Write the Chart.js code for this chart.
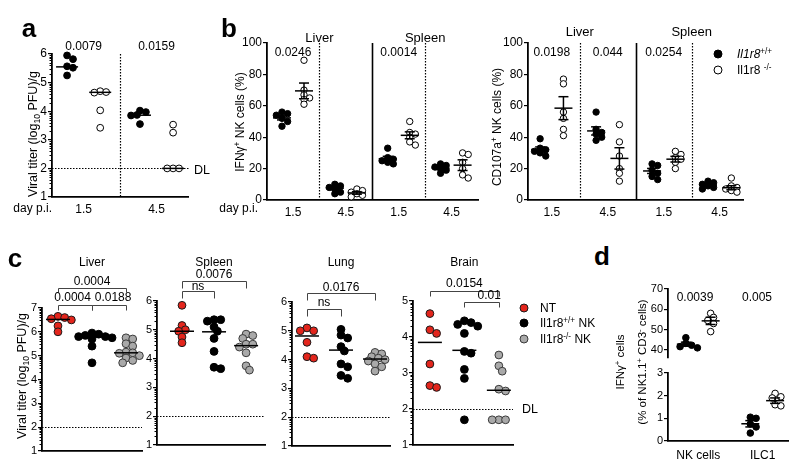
<!DOCTYPE html>
<html>
<head>
<meta charset="utf-8">
<title>Il1r8 NK cell figure</title>
<script src="https://cdn.jsdelivr.net/npm/chart.js"></script>
<style>
  html, body { margin: 0; padding: 0; background: #fff; }
  #fig { position: relative; width: 800px; height: 476px; overflow: hidden; background: #fff;
         font-family: 'Liberation Sans', Arial, Helvetica, sans-serif; color: #000; }
  #fig canvas { position: absolute; }
  .lab { position: absolute; white-space: nowrap; line-height: 1; }
  .sup { font-size: 0.68em; position: relative; top: -0.5em; }
  .sub { font-size: 0.68em; position: relative; top: 0.35em; }
  .dot { position: absolute; width: 7px; height: 7px; border: 1px solid #000; border-radius: 50%; transform: translate(-50%, -50%); }
</style>
</head>
<body>
<div id="fig"></div>
<script>
Chart.defaults.font.family = "'Liberation Sans', Arial, Helvetica, sans-serif";
Chart.defaults.color = '#000';

// ---- a: viral titer (liver), WT vs KO ----
const aDays = ['1.5', '4.5'];
const aP = ['0.0079', '0.0159'];
const aWT = [[5.95, 5.82, 5.57, 5.52, 5.25], [4.02, 3.97, 3.87, 3.85, 3.55]];
const aKO = [[4.7, 4.67, 4.65, 4.03, 3.42], [3.53, 3.25, 2, 2, 2]];
const aMedWT = [5.55, 3.86];
const aMedKO = [4.66, 2.0];

// ---- b: IFNg+ and CD107a+ NK cells, liver 1.5/4.5, spleen 1.5/4.5 ----
const bDays = ['1.5', '4.5', '1.5', '4.5'];
const bOrgans = ['Liver', 'Spleen'];
const ifnWT = [[56, 55, 54, 52, 50, 47], [10, 9, 8, 7, 5, 4], [33, 27, 26, 25, 24, 23], [23, 22, 21, 20, 19, 17]];
const ifnKO = [[89, 70, 67, 65, 64, 61], [7, 6, 5, 4, 3, 2], [50, 43, 42, 40, 37, 35], [30, 29, 24, 20, 16, 14]];
const ifnMeanWT = [52.3, 7.5, 26.3, 20.3];
const ifnMeanKO = [69.5, 4.5, 41.2, 22.2];
const ifnSemWT = [1.3, 1.0, 1.5, 0.9];
const ifnSemKO = [5.0, 0.8, 2.2, 3.4];
const ifnP = ['0.0246', '', '0.0014', ''];

const cdWT = [[39, 33, 32, 31, 30, 28], [56, 45, 43, 42, 40, 38], [23, 22, 19, 17, 15, 13], [12, 11, 10, 9, 8, 7]];
const cdKO = [[77, 74, 56, 52, 45, 41], [48, 37, 28, 20, 17, 12], [31, 29, 27, 26, 24, 20], [14, 9, 8, 7, 6, 5]];
const cdMeanWT = [32.2, 44.0, 18.5, 9.5];
const cdMeanKO = [58.5, 26.5, 26.0, 7.8];
const cdSemWT = [1.6, 2.6, 1.6, 0.8];
const cdSemKO = [7.3, 6.8, 1.8, 1.3];
const cdP = ['0.0198', '0.044', '0.0254', ''];

// ---- c: viral titer after NK transfer ----
const cOrgans = ['Liver', 'Spleen', 'Lung', 'Brain'];
const cNT = [[6.65, 6.6, 6.55, 6.5, 6.25, 6.0], [5.85, 5.15, 5.0, 4.95, 4.75, 4.55],
             [5.1, 5.0, 5.0, 4.6, 4.1, 4.05], [4.65, 4.2, 4.1, 3.25, 2.65, 2.6]];
const cWT = [[5.95, 5.9, 5.85, 5.8, 5.8, 5.75, 5.7, 5.4, 4.7], [5.35, 5.35, 5.3, 5.1, 4.95, 4.7, 4.25, 3.7, 3.65],
             [5.05, 4.85, 4.75, 4.45, 4.3, 3.85, 3.75, 3.45, 3.35], [4.45, 4.4, 4.35, 4.3, 4.1, 3.6, 3.55, 3.1, 2.85, 1.7]];
const cKO = [[5.75, 5.7, 5.5, 5.4, 5.15, 5.12, 5.1, 5.0, 4.9, 4.8, 4.7], [4.85, 4.8, 4.7, 4.5, 4.5, 4.4, 4.2, 3.75, 3.6],
             [4.25, 4.2, 4.1, 4.05, 4.0, 3.95, 3.85, 3.75, 3.6], [3.5, 3.2, 3.05, 2.55, 2.5, 1.7, 1.7, 1.7]];
const cMedNT = [6.52, 4.95, 4.82, 3.85];
const cMedWT = [5.8, 4.93, 4.33, 3.63];
const cMedKO = [5.12, 4.45, 4.02, 2.52];
const cP = [['0.0004', '0.0004', '0.0188'], ['0.0076', 'ns'], ['0.0176', 'ns'], ['0.0154', '0.01']];

// ---- d: IFNg+ NK cells and ILC1 ----
const dCells = ['NK cells', 'ILC1'];
const dWT = [[46, 43.2, 42.3, 41.6, 41], [1.05, 1.0, 0.75, 0.62, 0.35]];
const dKO = [[58, 56, 54.5, 53, 49], [2.1, 1.95, 1.9, 1.6, 1.55]];
const dMeanWT = [42.8, 0.76];
const dMeanKO = [54.3, 1.78];
const dSemWT = [1.0, 0.14];
const dSemKO = [1.8, 0.12];
const dP = ['0.0039', '0.005'];

const fig = document.getElementById('fig');
const ML = 46, MT = 36, MR = 26, MB = 24;
const S = {
  wt: {fill: '#000', stroke: '#000'},
  ko: {fill: '#fff', stroke: '#000'},
  nt: {fill: '#e3251c', stroke: '#1a1a1a'},
  grey: {fill: '#a9a9a9', stroke: '#3a3a3a'}
};

function label(html, x, y, o = {}) {
  const d = document.createElement('div');
  d.className = 'lab';
  d.innerHTML = html;
  d.style.left = x + 'px';
  d.style.top = y + 'px';
  d.style.fontSize = (o.size || 12) + 'px';
  if (o.bold) d.style.fontWeight = 'bold';
  if (o.lh) { d.style.lineHeight = o.lh + 'px'; d.style.textAlign = 'center'; }
  const ax = o.align === 'left' ? '0' : o.align === 'right' ? '-100%' : '-50%';
  d.style.transform = 'translate(' + ax + ', -50%)' + (o.rot ? ' rotate(-90deg)' : '');
  fig.appendChild(d);
}

function dot(x, y, sty) {
  const d = document.createElement('div');
  d.className = 'dot';
  d.style.left = x + 'px';
  d.style.top = y + 'px';
  d.style.background = sty.fill;
  d.style.borderColor = sty.stroke;
  fig.appendChild(d);
}

// simple beeswarm: returns horizontal offsets in px (points may overlap a bit, like the original)
function swarm(vals, yPx, diam) {
  const idx = vals.map((v, i) => i).sort((i, j) => vals[j] - vals[i]);
  const placed = [], off = [];
  const minD = diam * 0.62, step = diam * 0.38;
  idx.forEach(i => {
    const y = vals[i] * yPx;
    off[i] = 0;
    for (let k = 0; k < 60; k++) {
      const c = (k % 2 ? 1 : -1) * Math.ceil(k / 2) * step;
      if (placed.every(p => Math.hypot(p.x - c, p.y - y) >= minD)) {
        placed.push({x: c, y});
        off[i] = c;
        return;
      }
    }
  });
  return off;
}

function makeChart(c) {
  const b = c.box;
  const W = b.r - b.l + ML + MR, H = b.b - b.t + MT + MB;
  const xPx = (b.r - b.l) / (c.xMax - c.xMin), yPx = (b.b - b.t) / (c.yMax - c.yMin);
  c.px = v => b.l + (v - c.xMin) * xPx;
  const cv = document.createElement('canvas');
  cv.width = W; cv.height = H;
  cv.style.left = (b.l - ML) + 'px';
  cv.style.top = (b.t - MT) + 'px';
  cv.style.width = W + 'px';
  cv.style.height = H + 'px';
  fig.appendChild(cv);

  const sets = [];
  const seg = (x1, y1, x2, y2) => sets.push({
    data: [{x: x1, y: y1}, {x: x2, y: y2}], showLine: true, pointRadius: 0,
    borderColor: '#000', borderWidth: 1.5, order: 0, clip: false
  });
  (c.centers || []).forEach(m => {
    const hw = m.hw / xPx, cap = (m.cap || 0) / xPx;
    seg(m.pos - hw, m.m, m.pos + hw, m.m);
    if (m.sem) {
      seg(m.pos, m.m - m.sem, m.pos, m.m + m.sem);
      seg(m.pos - cap, m.m + m.sem, m.pos + cap, m.m + m.sem);
      seg(m.pos - cap, m.m - m.sem, m.pos + cap, m.m - m.sem);
    }
  });
  c.groups.forEach(g => {
    const off = swarm(g.vals, yPx, 2 * g.r + 1);
    sets.push({
      data: g.vals.map((v, i) => ({x: g.pos + off[i] / xPx, y: v})),
      pointRadius: g.r, pointHoverRadius: g.r,
      pointBackgroundColor: g.sty.fill, pointBorderColor: g.sty.stroke, pointBorderWidth: 1,
      order: 1, clip: false
    });
  });

  const deco = {
    id: 'deco',
    beforeDatasetsDraw(ch) {
      const {ctx, chartArea: a, scales: {x, y}} = ch;
      ctx.save();
      ctx.strokeStyle = '#000';
      (c.vlines || []).forEach(v => {
        ctx.lineWidth = v.solid ? 1.6 : 1.2;
        ctx.setLineDash(v.solid ? [] : [1.5, 1.5]);
        const px = Math.round(x.getPixelForValue(v.x)) + 0.5;
        ctx.beginPath(); ctx.moveTo(px, a.top); ctx.lineTo(px, a.bottom); ctx.stroke();
      });
      (c.hlines || []).forEach(h => {
        ctx.lineWidth = 1.2;
        ctx.setLineDash([1.5, 1.5]);
        const py = Math.round(y.getPixelForValue(h.y)) + 0.5;
        ctx.beginPath(); ctx.moveTo(a.left, py); ctx.lineTo(a.right + (h.ext || 0), py); ctx.stroke();
      });
      ctx.restore();
    },
    afterDraw(ch) {
      const {ctx, chartArea: a, scales: {x, y}} = ch;
      ctx.save();
      ctx.setLineDash([]);
      if (c.logMinor) {
        ctx.strokeStyle = '#000';
        ctx.lineWidth = 1;
        for (let k = c.yMin; k < c.yMax; k++) {
          for (let m = 2; m < 10; m++) {
            const py = Math.round(y.getPixelForValue(k + Math.log10(m))) + 0.5;
            ctx.beginPath(); ctx.moveTo(a.left - 2.5, py); ctx.lineTo(a.left, py); ctx.stroke();
          }
        }
      }
      ctx.strokeStyle = '#444';
      ctx.lineWidth = 1;
      (c.brackets || []).forEach(k => {
        const x1 = Math.round(x.getPixelForValue(k.x1)) + 0.5, x2 = Math.round(x.getPixelForValue(k.x2)) + 0.5;
        const yy = k.y - (b.t - MT) + 0.5;
        ctx.beginPath();
        ctx.moveTo(x1, yy + k.drop); ctx.lineTo(x1, yy); ctx.lineTo(x2, yy); ctx.lineTo(x2, yy + k.drop);
        ctx.stroke();
      });
      ctx.restore();
    }
  };

  new Chart(cv, {
    type: 'scatter',
    data: {datasets: sets},
    options: {
      responsive: false,
      animation: false,
      devicePixelRatio: 1,
      events: [],
      layout: {padding: {left: 0, top: MT, right: MR, bottom: c.hideX ? MB : 0}, autoPadding: false},
      plugins: {legend: {display: false}, tooltip: {enabled: false}},
      scales: {
        x: {
          type: 'linear', min: c.xMin, max: c.xMax, display: !c.hideX,
          afterBuildTicks: s => { s.ticks = (c.xTicks || []).map(v => ({value: v})); },
          afterFit: c.hideX ? undefined : s => { s.height = MB; },
          ticks: {
            display: !!c.xLabels, autoSkip: false, maxRotation: 0,
            callback: (v, i) => (c.xLabels ? c.xLabels[i] : ''),
            font: {size: c.xfs || 12}, padding: c.xPad || 4
          },
          grid: {display: false, drawTicks: false},
          border: {color: '#000', width: 1.8}
        },
        y: {
          type: 'linear', min: c.yMin, max: c.yMax,
          afterBuildTicks: s => { s.ticks = c.yTicks.map(v => ({value: v})); },
          afterFit: s => { s.width = ML; },
          ticks: {font: {size: c.fs}, padding: 1, callback: v => String(v)},
          grid: {drawOnChartArea: false, drawTicks: true, tickLength: 4, color: '#000', lineWidth: 1.2},
          border: {color: '#000', width: 1.8}
        }
      }
    },
    plugins: [deco]
  });
  return c;
}

// ---------- panel a ----------
const A = {
  box: {l: 52, t: 54, r: 188, b: 197}, xMin: 0.545, xMax: 4.65, yMin: 1, yMax: 6,
  yTicks: [1, 2, 3, 4, 5, 6], fs: 12, xTicks: [1.5, 3.7], xLabels: aDays, xPad: 5,
  logMinor: true, vlines: [{x: 2.6}], hlines: [{y: 2, ext: 2}], groups: [], centers: []
};
aDays.forEach((d, i) => {
  const p = 1 + i * 2.2;
  A.groups.push({pos: p, vals: aWT[i], sty: S.wt, r: 3.4}, {pos: p + 1, vals: aKO[i], sty: S.ko, r: 3.4});
  A.centers.push({pos: p, m: aMedWT[i], hw: 11}, {pos: p + 1, m: aMedKO[i], hw: 11});
});
makeChart(A);

// ---------- panel b ----------
function bPanel(box, xMin, xMax, WT, KO, mWT, mKO, sWT, sKO) {
  const B = {
    box, xMin, xMax, yMin: 0, yMax: 100, yTicks: [0, 20, 40, 60, 80, 100], fs: 12,
    xTicks: bDays.map((d, i) => 2.4 * i + 0.5), xLabels: bDays, xPad: 5,
    vlines: [{x: 1.7}, {x: 4.1, solid: true}, {x: 6.5}], groups: [], centers: []
  };
  bDays.forEach((d, i) => {
    const p = 2.4 * i;
    B.groups.push({pos: p, vals: WT[i], sty: S.wt, r: 3.2}, {pos: p + 1, vals: KO[i], sty: S.ko, r: 3.2});
    B.centers.push({pos: p, m: mWT[i], sem: sWT[i], hw: 9, cap: 5}, {pos: p + 1, m: mKO[i], sem: sKO[i], hw: 9, cap: 5});
  });
  return makeChart(B);
}
const B1 = bPanel({l: 267, t: 43, r: 478, b: 200}, -0.68, 8.9, ifnWT, ifnKO, ifnMeanWT, ifnMeanKO, ifnSemWT, ifnSemKO);
const B2 = bPanel({l: 528, t: 43, r: 743, b: 200}, -0.52, 8.7, cdWT, cdKO, cdMeanWT, cdMeanKO, cdSemWT, cdSemKO);

// ---------- panel c ----------
const cBox = [{l: 42, t: 308, r: 142, b: 451}, {l: 157, t: 301, r: 265, b: 445},
              {l: 292, t: 302, r: 390, b: 446}, {l: 413, t: 301, r: 513, b: 445}];
const cX = [[0.53, 3.47], [0.22, 3.59], [0.56, 3.44], [0.51, 3.41]];
const cTop = [7, 6, 6, 5];
const cBr = [
  [{x1: 1, x2: 3, y: 288, drop: 4}, {x1: 1, x2: 2, y: 305, drop: 5}, {x1: 2, x2: 3, y: 305, drop: 5}],
  [{x1: 1, x2: 3, y: 281, drop: 7}, {x1: 1, x2: 2, y: 291, drop: 7}],
  [{x1: 1, x2: 3, y: 293, drop: 7}, {x1: 1, x2: 2, y: 309, drop: 7}],
  [{x1: 1, x2: 3, y: 291, drop: 5}, {x1: 2, x2: 3, y: 302, drop: 5}]
];
const cTxt = [[[2, 281], [1.43, 297], [2.62, 297]], [[2, 274], [1.5, 286]], [[2, 287], [1.5, 302]], [[2, 283], [2.72, 295]]];
const C = cOrgans.map((o, i) => {
  const yT = [];
  for (let v = 1; v <= cTop[i]; v++) yT.push(v);
  return makeChart({
    box: cBox[i], xMin: cX[i][0], xMax: cX[i][1], yMin: 1, yMax: cTop[i], yTicks: yT, fs: 11,
    logMinor: true, hlines: [{y: 2}], brackets: cBr[i],
    groups: [{pos: 1, vals: cNT[i], sty: S.nt, r: 3.9}, {pos: 2, vals: cWT[i], sty: S.wt, r: 3.9}, {pos: 3, vals: cKO[i], sty: S.grey, r: 3.9}],
    centers: [{pos: 1, m: cMedNT[i], hw: 12}, {pos: 2, m: cMedWT[i], hw: 12}, {pos: 3, m: cMedKO[i], hw: 12}]
  });
});

// ---------- panel d ----------
const dPos = [1, 3.6];
const dCenters = [];
dCells.forEach((n, i) => {
  dCenters.push({pos: dPos[i], m: dMeanWT[i], sem: dSemWT[i], hw: 9, cap: 5, row: i},
                {pos: dPos[i] + 1, m: dMeanKO[i], sem: dSemKO[i], hw: 9, cap: 5, row: i});
});
const Dup = makeChart({
  box: {l: 668, t: 289, r: 788, b: 358}, xMin: 0.28, xMax: 5.12, yMin: 36, yMax: 70, yTicks: [40, 50, 60, 70], fs: 11,
  hideX: true,
  groups: [{pos: dPos[0], vals: dWT[0], sty: S.wt, r: 3.3}, {pos: dPos[0] + 1, vals: dKO[0], sty: S.ko, r: 3.3}],
  centers: dCenters.filter(m => m.row === 0)
});
const Dlo = makeChart({
  box: {l: 668, t: 373, r: 788, b: 441}, xMin: 0.28, xMax: 5.12, yMin: 0, yMax: 3, yTicks: [0, 1, 2, 3], fs: 11,
  xTicks: dPos.map(p => p + 0.5), xLabels: dCells, xPad: 7,
  groups: [{pos: dPos[1], vals: dWT[1], sty: S.wt, r: 3.3}, {pos: dPos[1] + 1, vals: dKO[1], sty: S.ko, r: 3.3}],
  centers: dCenters.filter(m => m.row === 1)
});

// ---------- text ----------
// panel letters
label('a', 29, 28, {size: 26, bold: true});
label('b', 229, 28, {size: 26, bold: true});
label('c', 15, 258, {size: 26, bold: true});
label('d', 602, 256, {size: 26, bold: true});

// a
label('Viral titer (log<span class="sub">10</span> PFU)/g', 33, 134, {size: 12.5, rot: true});
aP.forEach((p, i) => label(p, A.px(1.5 + i * 2.2), 46));
label('day p.i.', 52, 208, {align: 'right'});
label('DL', 194, 170, {align: 'left', size: 12.5});

// b
label('IFN&gamma;<span class="sup">+</span> NK cells (%)', 240, 122, {rot: true});
label('CD107a<span class="sup">+</span> NK cells (%)', 497, 127, {rot: true});
label('day p.i.', 258, 208, {align: 'right'});
bOrgans.forEach((o, i) => {
  label(o, B1.px(1.7 + 4.8 * i), 37, {size: 13});
  label(o, B2.px(1.7 + 4.8 * i), 31, {size: 13});
});
ifnP.forEach((p, i) => { if (p) label(p, B1.px(2.4 * i + 0.5), 52); });
cdP.forEach((p, i) => { if (p) label(p, B2.px(2.4 * i + 0.5), 52); });
dot(718, 54, S.wt);
dot(718, 70, S.ko);
label('<i>Il1r8</i><span class="sup">+/+</span>', 737, 54, {align: 'left'});
label('Il1r8 <span class="sup">-/-</span>', 737, 70, {align: 'left'});

// c
label('Viral titer (log<span class="sub">10</span> PFU)/g', 22, 376, {size: 12.5, rot: true});
cOrgans.forEach((o, i) => {
  label(o, C[i].px(2), 262);
  cP[i].forEach((p, j) => label(p, C[i].px(cTxt[i][j][0]), cTxt[i][j][1]));
});
label('DL', 522, 409, {align: 'left', size: 12.5});
dot(524, 308, S.nt);
dot(524, 323, S.wt);
dot(524, 339, S.grey);
label('NT', 540, 308, {align: 'left'});
label('Il1r8<span class="sup">+/+</span> NK', 540, 323, {align: 'left'});
label('Il1r8<span class="sup">-/-</span> NK', 540, 339, {align: 'left'});

// d
label('IFN&gamma;<span class="sup">+</span> cells<br>(% of NK1.1<span class="sup">+</span> CD3<span class="sup">-</span> cells)', 632, 362, {size: 11.5, rot: true, lh: 20});
label(dP[0], 695, 297);
label(dP[1], 757, 297);
</script>
</body>
</html>
